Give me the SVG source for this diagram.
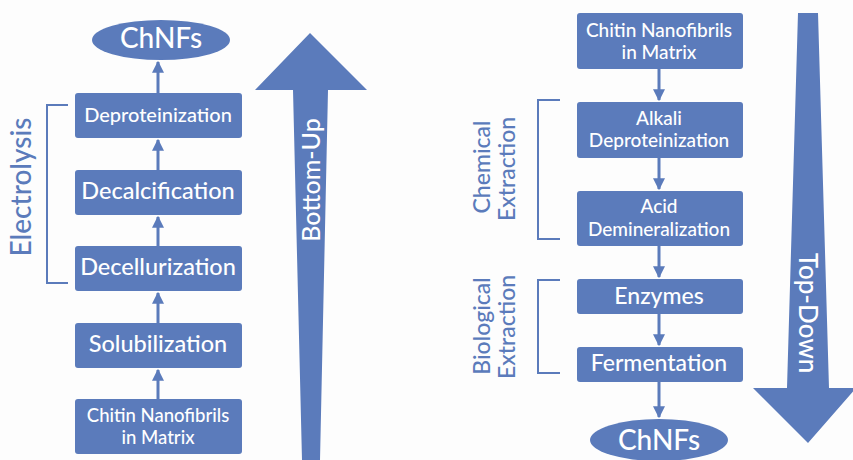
<svg xmlns="http://www.w3.org/2000/svg" width="853" height="460" viewBox="0 0 853 460">
<defs>
<style>
.box{fill:#5b7bbb}
.t{font-family:Lato,"Open Sans","Liberation Sans",sans-serif;font-weight:500;fill:#ffffff;text-anchor:middle}
.lab{font-family:Lato,"Open Sans","Liberation Sans",sans-serif;font-weight:500;fill:#5b7bbb;text-anchor:middle}
.con{stroke:#5b7bbb;stroke-width:3;fill:none}
.br{stroke:#5b7bbb;stroke-width:2;fill:none}
</style>
<marker id="ah" viewBox="0 0 10 10" refX="9" refY="5" markerWidth="4" markerHeight="4" markerUnits="strokeWidth" orient="auto">
<path d="M0,0 L10,5 L0,10 z" fill="#5b7bbb"/>
</marker>
</defs>
<rect width="853" height="460" fill="#fdfdfd"/>

<!-- Left column -->
<g id="l-chnfs"><ellipse class="box" cx="161" cy="40" rx="69" ry="20"/><text class="t" x="161" y="48" font-size="28">ChNFs</text></g>
<g id="l-deprot"><rect class="box" x="75" y="93" width="167" height="45" rx="3"/><text class="t" x="158" y="122" font-size="20">Deproteinization</text></g>
<g id="l-decalc"><rect class="box" x="75" y="170" width="167" height="45" rx="3"/><text class="t" x="158" y="199" font-size="23.5">Decalcification</text></g>
<g id="l-decell"><rect class="box" x="75" y="246" width="167" height="45" rx="3"/><text class="t" x="158" y="275" font-size="23.5">Decellurization</text></g>
<g id="l-solub"><rect class="box" x="75" y="323" width="167" height="45" rx="3"/><text class="t" x="158" y="352" font-size="23.5">Solubilization</text></g>
<g id="l-chitin"><rect class="box" x="75" y="399" width="167" height="55" rx="3"/><text class="t" x="158" y="422" font-size="18.5">Chitin Nanofibrils</text><text class="t" x="158" y="444" font-size="18.5">in Matrix</text></g>

<g id="l-electrolysis"><path class="br" d="M68,105 H47 V283 H68"/><text class="lab" font-size="28" transform="translate(31,187) rotate(-90)">Electrolysis</text></g>

<g id="l-bigarrow"><path class="box" d="M302,460 L293,90 L255,90 L310,33 L367,90 L328,90 L320,460 Z"/><text class="t" font-size="25" transform="translate(320,180) rotate(-90)">Bottom-Up</text></g>

<!-- Right column -->
<g id="r-chitin"><rect class="box" x="577" y="13" width="166" height="56" rx="3"/><text class="t" x="659" y="37" font-size="19">Chitin Nanofibrils</text><text class="t" x="659" y="59" font-size="19">in Matrix</text></g>
<g id="r-alkali"><rect class="box" x="577" y="102" width="166" height="56" rx="3"/><text class="t" x="659" y="125" font-size="19">Alkali</text><text class="t" x="659" y="147" font-size="19">Deproteinization</text></g>
<g id="r-acid"><rect class="box" x="577" y="191" width="166" height="55" rx="3"/><text class="t" x="659" y="213" font-size="19">Acid</text><text class="t" x="659" y="236" font-size="19">Demineralization</text></g>
<g id="r-enzymes"><rect class="box" x="577" y="279" width="166" height="35" rx="3"/><text class="t" x="659" y="304" font-size="23">Enzymes</text></g>
<g id="r-ferment"><rect class="box" x="577" y="347" width="166" height="35" rx="3"/><text class="t" x="659" y="371" font-size="23">Fermentation</text></g>
<g id="r-chnfs"><ellipse class="box" cx="659" cy="440" rx="69" ry="21"/><text class="t" x="659" y="450" font-size="28">ChNFs</text></g>

<g id="r-chemical"><path class="br" d="M560,100 H538 V239 H560"/><text class="lab" font-size="23" transform="translate(490,167) rotate(-90)">Chemical</text><text class="lab" font-size="23" transform="translate(515,169) rotate(-90)">Extraction</text></g>
<g id="r-biological"><path class="br" d="M560,280 H538 V373 H560"/><text class="lab" font-size="23" transform="translate(490,326) rotate(-90)">Biological</text><text class="lab" font-size="23" transform="translate(515,327) rotate(-90)">Extraction</text></g>

<g id="r-bigarrow"><path class="box" d="M798,13 L818,13 L829,388 L856,388 L808,443 L753,388 L787,388 Z"/><text class="t" font-size="26" transform="translate(799,313) rotate(90)">Top-Down</text></g>

<!-- connectors -->
<g id="connectors">
<line class="con" x1="158" y1="93" x2="158" y2="62" marker-end="url(#ah)"/>
<line class="con" x1="158" y1="170" x2="158" y2="140" marker-end="url(#ah)"/>
<line class="con" x1="158" y1="246" x2="158" y2="217" marker-end="url(#ah)"/>
<line class="con" x1="158" y1="323" x2="158" y2="293" marker-end="url(#ah)"/>
<line class="con" x1="158" y1="399" x2="158" y2="370" marker-end="url(#ah)"/>
<line class="con" x1="659" y1="69" x2="659" y2="100" marker-end="url(#ah)"/>
<line class="con" x1="659" y1="158" x2="659" y2="189" marker-end="url(#ah)"/>
<line class="con" x1="659" y1="246" x2="659" y2="277" marker-end="url(#ah)"/>
<line class="con" x1="659" y1="314" x2="659" y2="345" marker-end="url(#ah)"/>
<line class="con" x1="659" y1="382" x2="659" y2="417" marker-end="url(#ah)"/>
</g>
</svg>
